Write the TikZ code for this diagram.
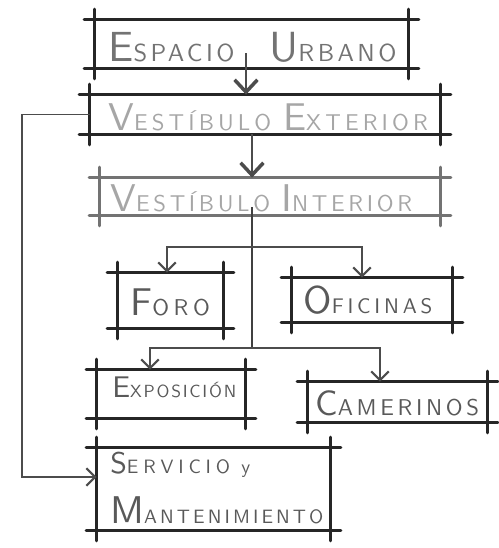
\documentclass[tikz,border=0pt]{standalone}
\usepackage{fontspec}
\newfontfamily\rotulofont{lmsans10-regular.otf}
\usetikzlibrary{positioning, arrows.meta}

\tikzset{
  caja/.style={rectangle, inner sep=0pt},
  trazo/.style={line width=1.6pt, line cap=round},
  linea/.style={line width=0.6pt, draw=black!70},
  tronco/.style={line width=1.3pt, draw=black!75},
  punta/.style={-{Straight Barb[length=5pt, width=10pt, line width=1.2pt]}},
  puntagrande/.style={-{Straight Barb[length=7pt, width=13pt, line width=2pt]}},
  rotulo/.style 2 args={anchor=west, inner sep=0pt, text=black!65,
    font=\rotulofont\fontsize{#1}{#1}\selectfont\addfontfeature{LetterSpace=#2}}
}
\newcommand{\letra}[3][22]{{\fontsize{#1}{#1}\selectfont #2}#3}

\begin{document}
\begin{tikzpicture}[x=0.02cm, y=-0.02cm]
\useasboundingbox (0,0) rectangle (498,548);

% Boxes
\node[caja, minimum width=6.26cm, minimum height=0.96cm] (eu) at (251.5,44) {};
\node[caja, minimum width=7.0cm, minimum height=0.78cm] (ve) at (265,114.5) {};
\node[caja, minimum width=6.8cm, minimum height=0.74cm] (vi) at (270,196.5) {};
\node[caja, minimum width=2.1cm, minimum height=1.1cm] (fo) at (170.5,300.5) {};
\node[caja, minimum width=3.2cm, minimum height=0.88cm] (of) at (372,300) {};
\node[caja, minimum width=2.96cm, minimum height=0.96cm] (ex) at (171,394) {};
\node[caja, minimum width=3.58cm, minimum height=0.8cm] (ca) at (397.5,402) {};
\node[caja, minimum width=4.66cm, minimum height=1.64cm] (sm) at (213.5,489) {};

% Sketchy frames (lines run past the corners)
\foreach \b/\c in {eu/85, ve/85, vi/55, fo/85, of/85, ex/85, ca/85, sm/85}{
  \draw[trazo, draw=black!\c] ([xshift=-6pt]\b.north west) -- ([xshift=6pt]\b.north east);
  \draw[trazo, draw=black!\c] ([xshift=-6pt]\b.south west) -- ([xshift=6pt]\b.south east);
  \draw[trazo, draw=black!\c] ([yshift=6pt]\b.north west) -- ([yshift=-6pt]\b.south west);
  \draw[trazo, draw=black!\c] ([yshift=6pt]\b.north east) -- ([yshift=-6pt]\b.south east);
}

% Labels
\node[rotulo={14}{14}, text=black!55] (eu-txt) at (108,47) {\letra[24]{E}{SPACIO}\hspace{0.7cm}\letra[24]{U}{RBANO}};
\node[rotulo={13}{18}, text=black!35] (ve-txt) at (108,117) {\letra{V}{ESTÍBULO} \letra{E}{XTERIOR}};
\node[rotulo={13}{16}, text=black!35] (vi-txt) at (110,198) {\letra{V}{ESTÍBULO} \letra{I}{NTERIOR}};
\node[rotulo={13}{20}] (fo-txt) at (130,302) {\letra{F}{ORO}};
\node[rotulo={12}{18}] (of-txt) at (303,300) {\letra{O}{FICINAS}};
\node[rotulo={10}{10}] (ex-txt) at (112,387) {\letra[17]{E}{XPOSICIÓN}};
\node[rotulo={13}{16}] (ca-txt) at (315,403) {\letra[20]{C}{AMERINOS}};
\node[rotulo={11}{25}, align=left] (sm-txt) at (110,488)
  {\letra[17]{S}{ERVICIO y}\\[10pt]\letra[22]{M}{\addfontfeature{LetterSpace=16}ANTENIMIENTO}};

% Main axis
\coordinate (eje1) at (246,53);
\coordinate (eje) at (252,0);
\coordinate (t0) at (252,207);
\coordinate (r1) at (252,247);
\coordinate (r2) at (252,348);
\coordinate (izq) at (22,0);

\draw[linea, puntagrande] (eje1) -- (eje1 |- ve.north);
\draw[linea, puntagrande] (ve.south -| eje) -- (vi.north -| eje);
\draw[tronco] (t0) -- (r2);

% Branches
\draw[linea, punta] (r1) -| ([xshift=-0.07cm]fo.north);
\draw[linea, punta] (r1) -| ([xshift=-0.2cm]of.north);
\draw[linea, punta] (r2) -| ([xshift=-0.42cm]ex.north);
\draw[linea, punta] (r2) -| ([xshift=-0.35cm]ca.north);

% Service route
\draw[linea, punta] (ve.west) -- (ve.west -| izq) |- ([yshift=0.24cm]sm.west);

\end{tikzpicture}
\end{document}
